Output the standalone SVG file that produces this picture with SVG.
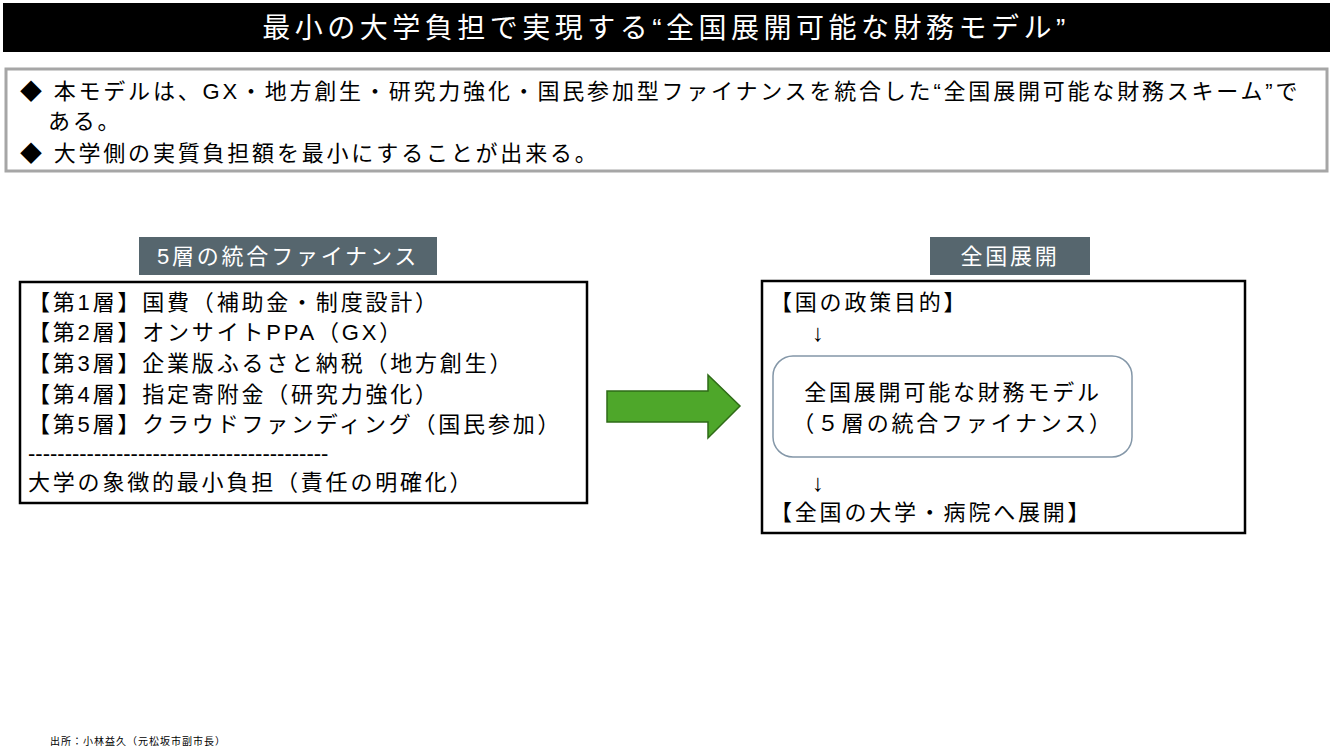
<svg xmlns="http://www.w3.org/2000/svg" width="1333" height="750" viewBox="0 0 1333 750">
<style>
text{font-family:"Liberation Sans","Noto Sans CJK JP",sans-serif;fill:#000}
.b{font-size:22px;letter-spacing:2.8px}
.w{fill:#fff}
.lab{fill:#56666e}
</style>
<rect width="1333" height="750" fill="#fff"/>
<g id="title"><rect x="3" y="3" width="1327" height="49" fill="#000"/>
<text x="666" y="38" text-anchor="middle" class="w" font-size="28" letter-spacing="4.5">最小の大学負担で実現する“全国展開可能な財務モデル”</text></g>
<g id="summary"><rect x="6" y="69" width="1321" height="102" fill="#fff" stroke="#a6a6a6" stroke-width="3"/>
<text class="b" x="20" y="99">◆ 本モデルは、GX・地方創生・研究力強化・国民参加型ファイナンスを統合した“全国展開可能な財務スキーム”で</text>
<text class="b" x="48" y="129">ある。</text>
<text class="b" x="20" y="161">◆ 大学側の実質負担額を最小にすることが出来る。</text></g>
<g id="label-left"><rect x="139" y="237" width="298" height="38" class="lab"/>
<text x="288" y="264" text-anchor="middle" class="b w">5層の統合ファイナンス</text></g>
<g id="box-left"><rect x="20" y="282" width="567" height="221" fill="#fff" stroke="#000" stroke-width="2.5"/>
<text class="b" x="28" y="310">【第1層】国費（補助金・制度設計）</text>
<text class="b" x="28" y="340">【第2層】オンサイトPPA（GX）</text>
<text class="b" x="28" y="371">【第3層】企業版ふるさと納税（地方創生）</text>
<text class="b" x="28" y="402">【第4層】指定寄附金（研究力強化）</text>
<text class="b" x="28" y="432">【第5層】クラウドファンディング（国民参加）</text>
<text x="28" y="461" font-size="22">-----------------------------------------</text>
<text class="b" x="28" y="490">大学の象徴的最小負担（責任の明確化）</text></g>
<g id="connectors"><polygon points="607,391 708,391 708,375 740,406 708,438 708,422 607,422" fill="#4ea72a" stroke="#2e6b17" stroke-width="1.5"/></g>
<g id="label-right"><rect x="930" y="237" width="160" height="38" class="lab"/>
<text x="1010" y="264" text-anchor="middle" class="b w">全国展開</text></g>
<g id="box-right"><rect x="762" y="281" width="483" height="252" fill="#fff" stroke="#000" stroke-width="2.5"/>
<text class="b" x="770" y="310">【国の政策目的】</text>
<text x="812" y="341" font-size="24">↓</text>
<rect x="773" y="356" width="359" height="101" rx="20" fill="#fff" stroke="#8497a8" stroke-width="1.5"/>
<text class="b" x="953" y="400" text-anchor="middle">全国展開可能な財務モデル</text>
<text class="b" x="953" y="431" text-anchor="middle">（５層の統合ファイナンス）</text>
<text x="812" y="491" font-size="24">↓</text>
<text class="b" x="770" y="520">【全国の大学・病院へ展開】</text></g>
<text x="50" y="745" font-size="10" letter-spacing="1" fill="#333">出所：小林益久（元松坂市副市長）</text>
</svg>
